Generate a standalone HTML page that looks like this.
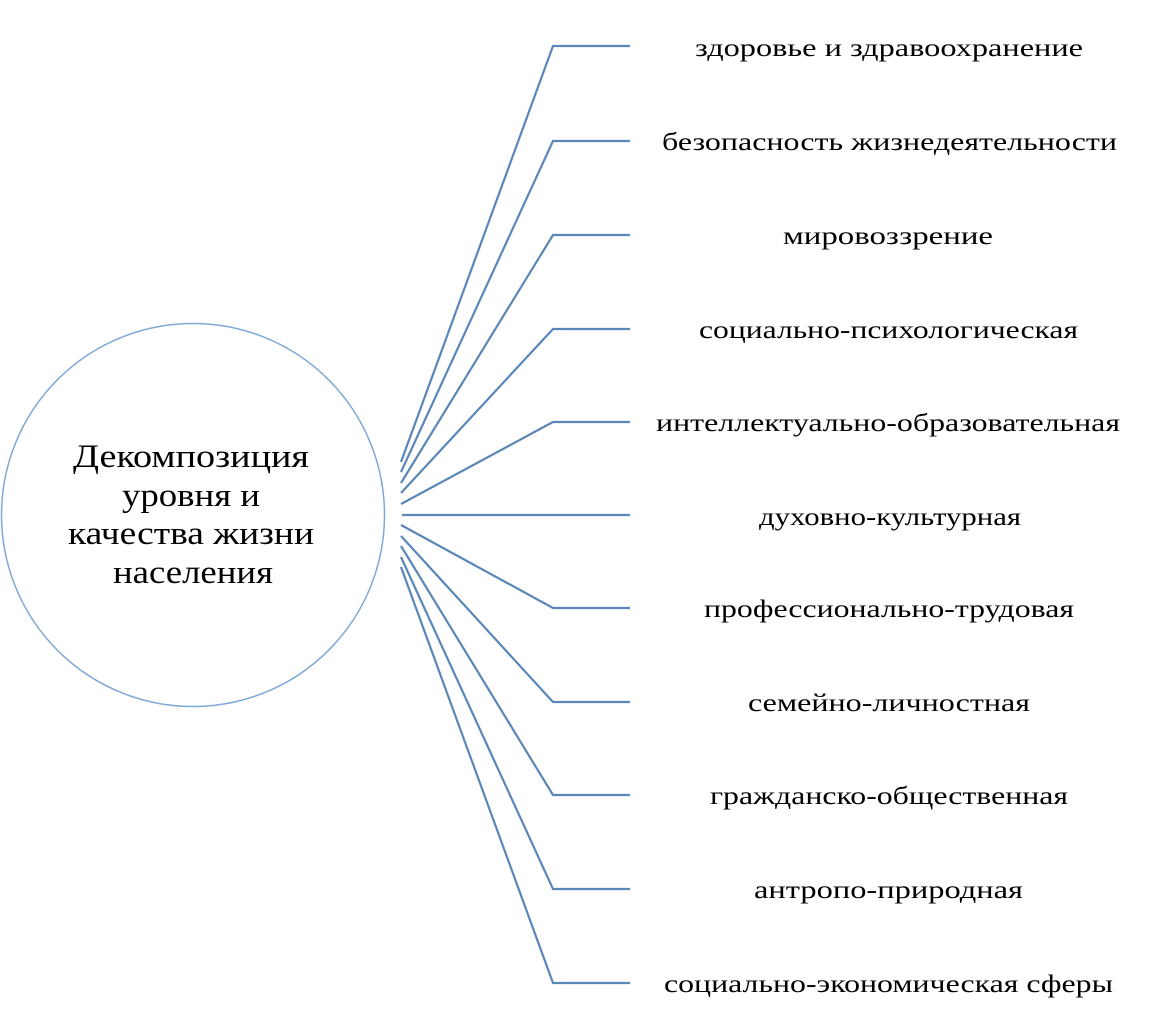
<!DOCTYPE html>
<html><head><meta charset="utf-8"><style>
html,body{margin:0;padding:0;background:#fff;}
svg{display:block}
text{font-family:"Liberation Serif",serif;fill:#000;}
</style></head><body>
<svg width="1152" height="1028" viewBox="0 0 1152 1028" xmlns="http://www.w3.org/2000/svg">
<circle cx="193" cy="515" r="191.5" fill="none" stroke="#7fa8d6" stroke-width="1.5"/>
<g font-size="33" text-anchor="middle">
<text x="191" y="467" textLength="236" lengthAdjust="spacingAndGlyphs">Декомпозиция</text>
<text x="191" y="506" textLength="138" lengthAdjust="spacingAndGlyphs">уровня и</text>
<text x="191" y="544" textLength="246" lengthAdjust="spacingAndGlyphs">качества жизни</text>
<text x="193" y="583" textLength="160" lengthAdjust="spacingAndGlyphs">населения</text>
</g>
<g fill="none" stroke="#5a87b8" stroke-width="2.2">
<polyline points="401,462 553,46 630,46"/>
<polyline points="401,472 553,141 630,141"/>
<polyline points="401,483 553,235 630,235"/>
<polyline points="401,493 553,329 630,329"/>
<polyline points="401,504 553,422 630,422"/>
<polyline points="402,515 630,515"/>
<polyline points="401,525 553,608 630,608"/>
<polyline points="401,536 553,702 630,702"/>
<polyline points="401,546 553,795 630,795"/>
<polyline points="401,557 553,889 630,889"/>
<polyline points="401,567 553,983 630,983"/>
</g>
<g font-size="25">
<text x="695" y="56" textLength="388" lengthAdjust="spacingAndGlyphs">здоровье и здравоохранение</text>
<text x="662" y="150" textLength="455" lengthAdjust="spacingAndGlyphs">безопасность жизнедеятельности</text>
<text x="783" y="244" textLength="210" lengthAdjust="spacingAndGlyphs">мировоззрение</text>
<text x="699" y="338" textLength="379" lengthAdjust="spacingAndGlyphs">социально-психологическая</text>
<text x="656" y="431" textLength="464" lengthAdjust="spacingAndGlyphs">интеллектуально-образовательная</text>
<text x="759" y="525" textLength="262" lengthAdjust="spacingAndGlyphs">духовно-культурная</text>
<text x="704" y="617" textLength="370" lengthAdjust="spacingAndGlyphs">профессионально-трудовая</text>
<text x="748" y="711" textLength="282" lengthAdjust="spacingAndGlyphs">семейно-личностная</text>
<text x="710" y="804" textLength="358" lengthAdjust="spacingAndGlyphs">гражданско-общественная</text>
<text x="754" y="898" textLength="269" lengthAdjust="spacingAndGlyphs">антропо-природная</text>
<text x="664" y="992" textLength="449" lengthAdjust="spacingAndGlyphs">социально-экономическая сферы</text>
</g>
</svg>
</body></html>
